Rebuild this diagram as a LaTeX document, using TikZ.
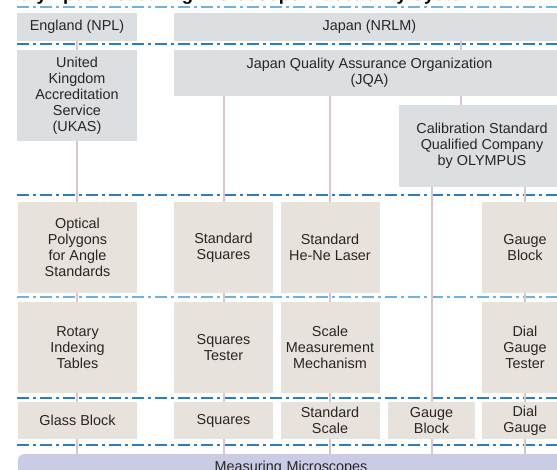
\documentclass[tikz,border=0pt]{standalone}
\usepackage{fontspec}
\setmainfont{Liberation Sans}
\usetikzlibrary{backgrounds}
\definecolor{orggray}{HTML}{DCDFE2}
\definecolor{stdbeige}{HTML}{E7E3DC}
\definecolor{lav}{HTML}{CACCE6}
\definecolor{linkpink}{HTML}{DCC3D0}
\definecolor{sepblue}{HTML}{2A7DBF}
\definecolor{seplightblue}{HTML}{6DB3DE}
\definecolor{txt}{HTML}{262626}
\begin{document}
\begin{tikzpicture}[x=1pt,y=-1pt,
  box/.style={rectangle, inner sep=0pt, align=center, font=\fontsize{14.4}{16}\selectfont, text=txt},
  org/.style={box, fill=orggray},
  std/.style={box, fill=stdbeige},
  link/.style={draw=linkpink, line width=2pt},
  sep/.style={draw=sepblue, line width=1.2pt, dash pattern=on 12pt off 4pt on 3pt off 4pt},
  seplight/.style={sep, draw=seplightblue}]
\useasboundingbox (0,0) rectangle (557,470);
\clip (0,0) rectangle (557,470);

% title (mostly cut off by the top edge)
\node[anchor=base west, inner sep=0pt, font=\bfseries\fontsize{18.4}{20}\selectfont] (title) at (17,0.3) {Olympus Measuring Microscope Traceability System};

% row 1
\node[org, minimum width=120, minimum height=28] (npl) at (77,27) {England (NPL)};
\node[org, minimum width=391, minimum height=28] (nrlm) at (369.5,27) {Japan (NRLM)};
% row 2
\node[org, minimum width=120, minimum height=91] (ukas) at (77,95.5) {United\\Kingdom\\Accreditation\\Service\\(UKAS)};
\node[org, minimum width=391, minimum height=46] (jqa) at (369.5,73) {Japan Quality Assurance Organization\\(JQA)};
\node[org, minimum width=166, minimum height=82] (calib) at (482,146) {Calibration Standard\\Qualified Company\\by OLYMPUS};
% row 3
\node[std, minimum width=119, minimum height=91] (poly) at (77.5,247.5) {Optical\\Polygons\\for Angle\\Standards};
\node[std, minimum width=99, minimum height=91] (stdsq) at (223.5,247.5) {Standard\\Squares};
\node[std, minimum width=99, minimum height=91] (laser) at (330,247.5) {Standard\\He-Ne Laser};
\node[std, minimum width=86, minimum height=91] (gauge) at (525,247.5) {Gauge\\Block};
% row 4
\node[std, minimum width=119, minimum height=91] (rotary) at (77.5,347.5) {Rotary\\Indexing\\Tables};
\node[std, minimum width=99, minimum height=91] (sqtest) at (223.5,347.5) {Squares\\Tester};
\node[std, minimum width=99, minimum height=91] (scalem) at (330,347.5) {Scale\\Measurement\\Mechanism};
\node[std, minimum width=86, minimum height=91] (dialt) at (525,347.5) {Dial\\Gauge\\Tester};
% row 5
\node[std, minimum width=119, minimum height=37] (glass) at (77.5,420.5) {Glass Block};
\node[std, minimum width=99, minimum height=37] (squares) at (223.5,420.5) {Squares};
\node[std, minimum width=99, minimum height=37] (stdscale) at (330,420.5) {Standard\\Scale};
\node[std, minimum width=87, minimum height=37] (gauge2) at (431.5,420.5) {Gauge\\Block};
\node[std, minimum width=86, minimum height=37] (dial) at (525,420.5) {Dial\\Gauge};
% bottom
\node[box, fill=lav, rounded corners=6pt, anchor=north, text width=546pt, inner ysep=7pt] (micro) at (291,454) {Measuring Microscopes};

\coordinate (jc) at (461,0);

\begin{pgfonlayer}{background}
  \draw[seplight] (17,7) -- (557,7);
  \draw[sep] (17,44) -- (557,44);
  \draw[sep] (17,195) -- (557,195);
  \draw[seplight] (17,297) -- (557,297);
  \draw[sep] (17,398) -- (557,398);
  \draw[sep] (17,445) -- (557,445);

  \draw[link] (npl.south) -- (npl.south |- micro.north);
  \draw[link] (stdsq.center |- jqa.south) -- (squares.center |- micro.north);
  \draw[link] (laser.center |- jqa.south) -- (stdscale.center |- micro.north);
  \draw[link] (jc |- nrlm.south) -- (jc |- calib.north);
  \draw[link] (gauge2.center |- calib.south) -- (gauge2.center |- micro.north);
  \draw[link] (gauge.center |- calib.south) -- (dial.center |- micro.north);
\end{pgfonlayer}
\end{tikzpicture}
\end{document}
